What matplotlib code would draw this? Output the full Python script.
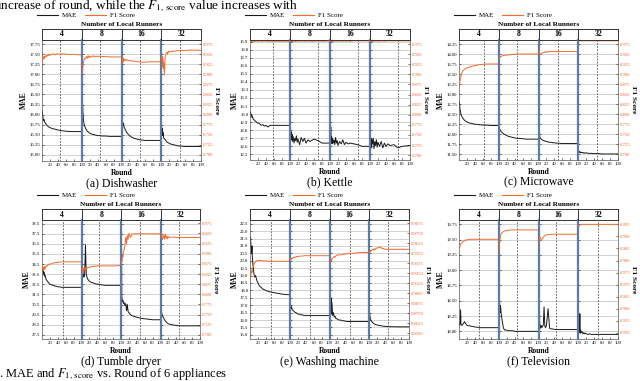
import matplotlib.pyplot as plt
from matplotlib.lines import Line2D
import numpy as np

plt.rcParams['font.family'] = ['Liberation Serif', 'DejaVu Serif']
plt.rcParams['mathtext.fontset'] = 'stix'

runners = ['4', '8', '16', '32']
rounds = [1, 2, 3, 4, 5, 6, 8, 10, 12, 14, 16, 18, 20, 24, 28, 32, 36, 40, 45, 50, 60, 70, 80, 100]

# (a) Dishwasher
dish_mae = [
    [16.08, 15.95, 15.90, 15.85, 15.88, 15.82, 15.80, 15.76, 15.74, 15.72, 15.70, 15.69, 15.68, 15.66, 15.65, 15.64, 15.63, 15.62, 15.61, 15.60, 15.59, 15.58, 15.58, 15.58],
    [17.00, 16.30, 16.05, 15.90, 15.82, 15.76, 15.70, 15.65, 15.62, 15.59, 15.57, 15.56, 15.54, 15.52, 15.51, 15.50, 15.49, 15.48, 15.48, 15.47, 15.47, 15.46, 15.46, 15.46],
    [15.85, 15.78, 15.82, 15.74, 15.78, 15.70, 15.66, 15.62, 15.58, 15.55, 15.52, 15.50, 15.48, 15.45, 15.43, 15.41, 15.40, 15.39, 15.38, 15.37, 15.36, 15.36, 15.36, 15.36],
    [15.70, 15.55, 15.65, 15.48, 15.55, 15.42, 15.40, 15.38, 15.35, 15.32, 15.31, 15.30, 15.29, 15.27, 15.26, 15.25, 15.24, 15.23, 15.22, 15.22, 15.21, 15.21, 15.21, 15.21],
]
dish_f1 = [
    [0.935, 0.940, 0.937, 0.943, 0.939, 0.945, 0.942, 0.947, 0.944, 0.948, 0.946, 0.950, 0.947, 0.949, 0.951, 0.948, 0.950, 0.951, 0.949, 0.951, 0.950, 0.949, 0.949, 0.948],
    [0.900, 0.912, 0.920, 0.928, 0.932, 0.936, 0.940, 0.938, 0.944, 0.940, 0.946, 0.941, 0.945, 0.942, 0.946, 0.943, 0.945, 0.944, 0.945, 0.944, 0.944, 0.943, 0.943, 0.943],
    [0.935, 0.942, 0.928, 0.940, 0.932, 0.938, 0.934, 0.937, 0.935, 0.936, 0.934, 0.935, 0.933, 0.934, 0.933, 0.932, 0.932, 0.931, 0.931, 0.930, 0.930, 0.931, 0.931, 0.931],
    [0.935, 0.945, 0.920, 0.940, 0.915, 0.930, 0.898, 0.945, 0.950, 0.955, 0.950, 0.957, 0.955, 0.957, 0.956, 0.958, 0.957, 0.959, 0.958, 0.959, 0.959, 0.960, 0.960, 0.959],
]
dish_mark = [46, 47, 47, 47]

# (b) Kettle
kettle_mae = [
    [13.03, 13.00, 12.98, 12.99, 12.96, 12.97, 12.94, 12.93, 12.92, 12.91, 12.90, 12.89, 12.89, 12.88, 12.86, 12.87, 12.85, 12.86, 12.84, 12.86, 12.86, 12.86, 12.86, 12.86],
    [12.84, 12.74, 12.78, 12.68, 12.75, 12.66, 12.72, 12.64, 12.70, 12.67, 12.73, 12.65, 12.69, 12.62, 12.71, 12.66, 12.70, 12.64, 12.68, 12.66, 12.69, 12.67, 12.64, 12.64],
    [12.75, 12.84, 12.66, 12.72, 12.63, 12.70, 12.64, 12.68, 12.62, 12.71, 12.64, 12.67, 12.61, 12.66, 12.63, 12.68, 12.62, 12.65, 12.63, 12.64, 12.63, 12.62, 12.60, 12.60],
    [12.74, 12.62, 12.70, 12.58, 12.68, 12.63, 12.70, 12.57, 12.66, 12.61, 12.68, 12.59, 12.65, 12.60, 12.66, 12.58, 12.64, 12.60, 12.63, 12.61, 12.62, 12.58, 12.60, 12.61],
]
kettle_f1 = [
    [0.980, 0.982, 0.981, 0.983, 0.981, 0.982, 0.983, 0.981, 0.982, 0.982, 0.983, 0.982, 0.982, 0.983, 0.982, 0.982, 0.983, 0.982, 0.982, 0.982, 0.982, 0.982, 0.982, 0.982],
    [0.980, 0.982, 0.981, 0.982, 0.983, 0.981, 0.982, 0.983, 0.982, 0.981, 0.983, 0.982, 0.982, 0.983, 0.982, 0.983, 0.982, 0.982, 0.983, 0.982, 0.982, 0.983, 0.982, 0.983],
    [0.981, 0.983, 0.981, 0.982, 0.983, 0.982, 0.981, 0.983, 0.982, 0.983, 0.982, 0.982, 0.983, 0.982, 0.983, 0.982, 0.983, 0.982, 0.983, 0.982, 0.983, 0.983, 0.983, 0.983],
    [0.981, 0.982, 0.983, 0.982, 0.981, 0.983, 0.982, 0.983, 0.982, 0.983, 0.983, 0.982, 0.983, 0.982, 0.983, 0.983, 0.982, 0.983, 0.983, 0.983, 0.983, 0.983, 0.983, 0.983],
]
kettle_mark = [57, 69, 70, 71]

# (c) Microwave
micro_mae = [
    [12.80, 12.68, 12.60, 12.55, 12.50, 12.47, 12.43, 12.40, 12.37, 12.35, 12.33, 12.32, 12.31, 12.29, 12.28, 12.27, 12.26, 12.25, 12.25, 12.24, 12.23, 12.23, 12.22, 12.22],
    [12.17, 12.14, 12.12, 12.10, 12.08, 12.07, 12.05, 12.03, 12.01, 12.00, 11.99, 11.98, 11.97, 11.95, 11.94, 11.93, 11.92, 11.91, 11.90, 11.90, 11.89, 11.88, 11.88, 11.88],
    [13.40, 12.20, 11.95, 11.92, 11.90, 11.89, 11.87, 11.86, 11.85, 11.84, 11.83, 11.83, 11.82, 11.81, 11.80, 11.80, 11.79, 11.79, 11.78, 11.78, 11.77, 11.77, 11.77, 11.77],
    [11.58, 11.56, 11.57, 11.55, 11.56, 11.54, 11.55, 11.54, 11.55, 11.53, 11.54, 11.53, 11.54, 11.53, 11.52, 11.53, 11.52, 11.52, 11.52, 11.52, 11.51, 11.51, 11.51, 11.51],
]
micro_f1 = [
    [0.872, 0.880, 0.886, 0.891, 0.895, 0.899, 0.904, 0.908, 0.910, 0.912, 0.913, 0.914, 0.915, 0.917, 0.918, 0.919, 0.920, 0.921, 0.922, 0.923, 0.924, 0.925, 0.925, 0.925],
    [0.939, 0.941, 0.942, 0.943, 0.944, 0.944, 0.945, 0.946, 0.946, 0.947, 0.947, 0.947, 0.947, 0.948, 0.948, 0.949, 0.949, 0.949, 0.950, 0.950, 0.950, 0.950, 0.950, 0.950],
    [0.968, 0.955, 0.950, 0.949, 0.950, 0.951, 0.952, 0.953, 0.953, 0.954, 0.954, 0.955, 0.955, 0.955, 0.956, 0.956, 0.956, 0.956, 0.956, 0.956, 0.956, 0.956, 0.956, 0.956],
    [0.982, 0.983, 0.983, 0.983, 0.983, 0.983, 0.983, 0.983, 0.983, 0.983, 0.983, 0.983, 0.983, 0.983, 0.983, 0.983, 0.983, 0.983, 0.983, 0.983, 0.983, 0.983, 0.983, 0.983],
]
micro_mark = [63, 47, 48, 48]

# (d) Tumble dryer
dryer_mae = [
    [34.1, 33.8, 34.0, 33.5, 33.7, 33.3, 33.4, 33.0, 32.9, 32.8, 32.7, 32.6, 32.5, 32.45, 32.4, 32.35, 32.3, 32.25, 32.25, 32.2, 32.2, 32.2, 32.2, 32.2],
    [34.1, 33.6, 33.8, 33.3, 33.5, 33.2, 33.4, 36.4, 33.5, 33.2, 33.0, 32.9, 32.8, 32.7, 32.65, 32.6, 32.55, 32.5, 32.5, 32.45, 32.4, 32.4, 32.4, 32.4],
    [38.8, 31.3, 31.0, 30.8, 30.9, 30.6, 30.7, 30.4, 30.6, 29.9, 30.5, 29.8, 29.7, 29.5, 29.4, 29.35, 29.3, 29.25, 29.2, 29.15, 29.1, 29.05, 29.0, 29.0],
    [38.8, 30.2, 29.7, 29.5, 29.4, 29.3, 29.2, 29.0, 28.9, 28.8, 28.7, 28.65, 28.6, 28.55, 28.5, 28.5, 28.45, 28.45, 28.4, 28.4, 28.4, 28.4, 28.4, 28.4],
]
dryer_f1 = [
    [0.862, 0.868, 0.858, 0.866, 0.860, 0.868, 0.864, 0.870, 0.868, 0.872, 0.872, 0.874, 0.874, 0.876, 0.877, 0.878, 0.878, 0.879, 0.879, 0.880, 0.880, 0.880, 0.880, 0.880],
    [0.862, 0.856, 0.866, 0.852, 0.864, 0.858, 0.866, 0.862, 0.866, 0.864, 0.866, 0.866, 0.867, 0.868, 0.868, 0.869, 0.869, 0.870, 0.870, 0.870, 0.870, 0.870, 0.870, 0.871],
    [0.874, 0.880, 0.885, 0.895, 0.892, 0.905, 0.910, 0.920, 0.940, 0.925, 0.945, 0.935, 0.950, 0.940, 0.948, 0.949, 0.949, 0.949, 0.949, 0.949, 0.949, 0.949, 0.949, 0.949],
    [0.955, 0.950, 0.945, 0.940, 0.935, 0.940, 0.945, 0.936, 0.948, 0.938, 0.944, 0.937, 0.942, 0.940, 0.941, 0.941, 0.941, 0.940, 0.940, 0.940, 0.940, 0.940, 0.940, 0.940],
]
dryer_mark = [53, 44, 47, 48]

# (e) Washing machine
wash_mae = [
    [21.6, 21.2, 20.8, 20.5, 21.0, 20.2, 19.6, 19.1, 18.9, 19.0, 18.8, 18.6, 18.5, 18.3, 18.2, 18.1, 18.05, 18.0, 17.95, 17.9, 17.85, 17.8, 17.75, 17.7],
    [17.1, 16.9, 17.0, 16.8, 16.85, 16.7, 16.65, 16.6, 16.55, 16.5, 16.5, 16.45, 16.4, 16.4, 16.35, 16.35, 16.3, 16.3, 16.3, 16.3, 16.3, 16.3, 16.3, 16.3],
    [17.0, 17.4, 16.6, 17.5, 16.4, 17.2, 16.3, 16.5, 16.2, 16.25, 16.1, 16.1, 16.05, 16.0, 16.0, 15.95, 15.95, 15.92, 15.9, 15.9, 15.9, 15.9, 15.9, 15.9],
    [16.5, 16.2, 16.1, 16.0, 15.95, 15.9, 15.85, 15.8, 15.75, 15.72, 15.7, 15.68, 15.66, 15.64, 15.62, 15.6, 15.58, 15.57, 15.56, 15.55, 15.55, 15.54, 15.54, 15.54],
]
wash_f1 = [
    [0.9195, 0.922, 0.925, 0.928, 0.926, 0.930, 0.933, 0.936, 0.938, 0.940, 0.940, 0.941, 0.941, 0.941, 0.941, 0.9405, 0.9405, 0.9405, 0.940, 0.940, 0.940, 0.940, 0.940, 0.940],
    [0.941, 0.943, 0.942, 0.944, 0.943, 0.944, 0.944, 0.945, 0.945, 0.945, 0.946, 0.946, 0.946, 0.9465, 0.9465, 0.9465, 0.947, 0.947, 0.947, 0.947, 0.947, 0.947, 0.947, 0.947],
    [0.937, 0.940, 0.939, 0.942, 0.941, 0.943, 0.944, 0.945, 0.946, 0.945, 0.947, 0.947, 0.948, 0.948, 0.948, 0.9485, 0.949, 0.949, 0.9495, 0.950, 0.950, 0.9505, 0.951, 0.951],
    [0.952, 0.953, 0.952, 0.954, 0.953, 0.954, 0.955, 0.955, 0.954, 0.956, 0.955, 0.956, 0.957, 0.957, 0.958, 0.956, 0.956, 0.955, 0.955, 0.955, 0.955, 0.955, 0.955, 0.955],
]
wash_mark = [52, 51, 51, 46]

# (f) Television
tv_mae = [
    [18.12, 18.10, 18.20, 18.35, 18.12, 18.10, 18.10, 18.12, 18.14, 18.16, 18.13, 18.12, 18.10, 18.09, 18.09, 18.08, 18.08, 18.07, 18.07, 18.06, 18.06, 18.06, 18.06, 18.06],
    [18.66, 18.50, 18.30, 18.42, 18.38, 18.30, 18.20, 18.12, 18.05, 18.03, 18.02, 18.02, 18.02, 18.01, 18.01, 18.01, 18.01, 18.00, 18.00, 18.00, 18.00, 18.00, 18.00, 18.00],
    [19.70, 18.60, 18.15, 18.05, 18.08, 18.10, 18.06, 18.08, 18.10, 18.40, 18.08, 18.06, 18.10, 18.37, 18.05, 18.04, 18.04, 18.03, 18.03, 18.03, 18.03, 18.03, 18.03, 18.03],
    [18.03, 17.98, 18.00, 18.29, 17.97, 18.02, 17.98, 17.99, 17.96, 17.98, 17.96, 17.97, 17.96, 17.95, 17.96, 17.95, 17.95, 17.95, 17.95, 17.95, 17.95, 17.95, 17.95, 17.95],
]
tv_f1 = [
    [0.9850, 0.9855, 0.9862, 0.9866, 0.9870, 0.9872, 0.9876, 0.9879, 0.9881, 0.9883, 0.9884, 0.9885, 0.9886, 0.9887, 0.9888, 0.9888, 0.9888, 0.9888, 0.9888, 0.9888, 0.9888, 0.9888, 0.9888, 0.9888],
    [0.9836, 0.9870, 0.9890, 0.9900, 0.9906, 0.9910, 0.9915, 0.9918, 0.9920, 0.9922, 0.9923, 0.9924, 0.9925, 0.9926, 0.9926, 0.9927, 0.9927, 0.9927, 0.9927, 0.9927, 0.9927, 0.9927, 0.9927, 0.9927],
    [0.9850, 0.9890, 0.9900, 0.9895, 0.9890, 0.9888, 0.9887, 0.9892, 0.9897, 0.9900, 0.9903, 0.9905, 0.9906, 0.9907, 0.9908, 0.9909, 0.9909, 0.9909, 0.9909, 0.9909, 0.9909, 0.9909, 0.9909, 0.9909],
    [0.9940, 0.9944, 0.9946, 0.9947, 0.9948, 0.9949, 0.9950, 0.9950, 0.9950, 0.9950, 0.9950, 0.9950, 0.9950, 0.9950, 0.9950, 0.9950, 0.9950, 0.9950, 0.9950, 0.9950, 0.9950, 0.9950, 0.9950, 0.9950],
]
tv_mark = [50, 47, 44, 49]

MAE_C = '#1a1a1a'
F1_C = '#f26b2a'
SEP_C = '#5a7bab'
W, H = 640, 381
TICK_FS = 3.4

fig = plt.figure(figsize=(6.4, 3.81), dpi=100)


def box(x0, y0, w, h):
    # pixel box with top-left origin -> figure fraction
    return [x0 / W, 1 - (y0 + h) / H, w / W, h / H]


def panel(x0, y0, w, h, mae, f1, marks, mae_ticks, mae_lim, mae_fmt,
          f1_ticks, f1_lim, f1_fmt, caption):
    fw = w / 4
    for k in range(4):
        ax = fig.add_axes(box(x0 + k * fw, y0, fw, h))
        ax.plot(rounds, mae[k], color=MAE_C, lw=0.7)
        ax.axvline(marks[k], color='#333333', ls=(0, (2.5, 2)), lw=0.5)
        ax.set_xlim(0, 100)
        ax.set_xticks([20, 40, 60, 80, 100])
        ax.set_ylim(*mae_lim)
        ax.set_yticks(mae_ticks)
        ax.set_yticklabels([mae_fmt % v for v in mae_ticks])
        ax.grid(axis='y', color='#c0c0c0', lw=0.5)
        ax.set_axisbelow(True)
        ax.tick_params(direction='in', length=1.5, width=0.4, labelsize=TICK_FS, pad=1.2)
        ax.spines['top'].set_visible(False)
        ax.spines['right'].set_visible(False)
        ax.spines['bottom'].set_color('#555555')
        ax.spines['bottom'].set_linewidth(0.5)
        if k == 0:
            ax.spines['left'].set_color('#555555')
            ax.spines['left'].set_linewidth(0.5)
            ax.set_ylabel('MAE', fontsize=5.5, fontweight='bold', labelpad=1)
        else:
            ax.tick_params(axis='y', left=False, labelleft=False)
            ax.spines['left'].set_color(SEP_C)
            ax.spines['left'].set_linewidth(1.6)

        tw = ax.twinx()
        tw.plot(rounds, f1[k], color=F1_C, lw=0.7)
        tw.set_ylim(*f1_lim)
        tw.set_yticks(f1_ticks)
        tw.set_yticklabels([f1_fmt % v for v in f1_ticks])
        for s in tw.spines.values():
            s.set_visible(False)
        if k == 3:
            tw.spines['right'].set_visible(True)
            tw.spines['right'].set_color('#555555')
            tw.spines['right'].set_linewidth(0.5)
            tw.tick_params(axis='y', direction='in', length=1.5, width=0.4,
                           labelsize=TICK_FS, labelcolor=F1_C, pad=1.2)
            tw.set_ylabel('F1 Score', fontsize=5.3, fontweight='bold',
                          rotation=270, va='bottom', labelpad=0.8)
        else:
            tw.tick_params(axis='y', right=False, labelright=False)

        st = fig.add_axes(box(x0 + k * fw, y0 - 11, fw, 11))
        st.set_xticks([])
        st.set_yticks([])
        st.set_facecolor('white')
        for s in st.spines.values():
            s.set_linewidth(0.7)
            s.set_color('#333333')
        st.text(0.5, 0.5, runners[k], ha='center', va='center',
                fontsize=5.5, fontweight='bold', transform=st.transAxes)

    cx = (x0 + w / 2) / W
    fig.text(cx, 1 - (y0 - 15.5) / H, 'Number of Local Runners', ha='center',
             va='center', fontsize=5.2, fontweight='bold')
    handles = [Line2D([], [], color=MAE_C, lw=0.8), Line2D([], [], color=F1_C, lw=0.8)]
    fig.legend(handles, ['MAE', 'F1 Score'], loc='center',
               bbox_to_anchor=((x0 + 44) / W, 1 - (y0 - 24.5) / H), ncol=2,
               frameon=False, fontsize=5, handlelength=3.0, columnspacing=1.2,
               handletextpad=0.5, borderpad=0)
    fig.text(cx, 1 - (y0 + h + 12) / H, 'Round', ha='center', va='center',
             fontsize=5.5, fontweight='bold')
    fig.text(cx, 1 - (y0 + h + 22.5) / H, caption, ha='center', va='center',
             fontsize=8.5)


f1_std = np.round(np.arange(0.700, 0.9751, 0.025), 3)

panel(42, 40, 159, 121, dish_mae, dish_f1, dish_mark,
      np.round(np.arange(15.0, 17.76, 0.25), 2), (14.85, 17.85), '%.2f',
      f1_std, (0.685, 0.985), '%.3f', '(a) Dishwasher')
panel(250, 40, 160, 120, kettle_mae, kettle_f1, kettle_mark,
      np.round(np.arange(12.5, 13.91, 0.1), 1), (12.43, 13.92), '%.1f',
      f1_std, (0.688, 0.985), '%.3f', '(b) Kettle')
panel(459, 40, 159, 120, micro_mae, micro_f1, micro_mark,
      np.round(np.arange(11.5, 14.26, 0.25), 2), (11.36, 14.35), '%.2f',
      f1_std, (0.685, 0.985), '%.3f', '(c) Microwave')
panel(42, 220, 158, 119, dryer_mae, dryer_f1, dryer_mark,
      np.round(np.arange(27.5, 38.51, 1.0), 1), (27.1, 38.85), '%.1f',
      f1_std, (0.690, 0.983), '%.3f', '(d) Tumble dryer')
panel(250, 220, 159, 119, wash_mae, wash_f1, wash_mark,
      np.round(np.arange(15.0, 22.51, 0.5), 1), (14.72, 22.75), '%.1f',
      np.round(np.arange(0.85, 0.98751, 0.0125), 4), (0.8427, 0.9917), '%.4f',
      '(e) Washing machine')
panel(459, 220, 159, 119, tv_mae, tv_f1, tv_mark,
      np.round(np.arange(18.0, 19.76, 0.25), 2), (17.875, 19.82), '%.2f',
      np.round(np.arange(0.950, 0.99501, 0.005), 3), (0.9475, 0.9968), '%.3f',
      '(f) Television')

fig.text(-3 / W, 1 - 8.5 / H,
         r'increase of round, while the $F_{1,\,\mathrm{score}}$ value increases with',
         ha='left', va='baseline', fontsize=9.5)
fig.text(-1 / W, 1 - 377 / H,
         r'. MAE and $F_{1,\,\mathrm{score}}$ vs. Round of 6 appliances',
         ha='left', va='baseline', fontsize=9)

fig.savefig('out.png', dpi=100)
